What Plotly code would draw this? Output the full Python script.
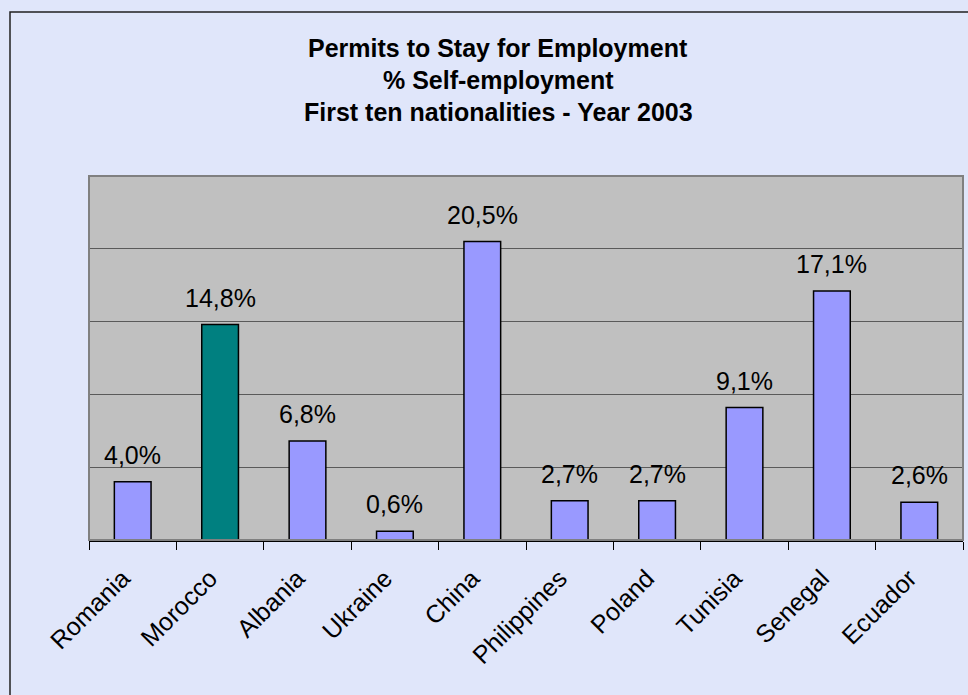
import plotly.graph_objects as go

# Share of self-employment among permits to stay for employment, 2003
countries = ["Romania", "Morocco", "Albania", "Ukraine", "China",
             "Philippines", "Poland", "Tunisia", "Senegal", "Ecuador"]
self_employment_pct = [4.0, 14.8, 6.8, 0.6, 20.5, 2.7, 2.7, 9.1, 17.1, 2.6]
highlight = "Morocco"

title_lines = ["Permits to Stay for Employment",
               "% Self-employment",
               "First ten nationalities - Year 2003"]

BAR = "#9999FF"
BAR_HI = "#008080"
PAPER = "#E0E6FA"
PLOT = "#C0C0C0"
FONT = "Liberation Sans, Arial, sans-serif"

colors = [BAR_HI if c == highlight else BAR for c in countries]
labels = [f"{v:.1f}%".replace(".", ",") for v in self_employment_pct]

fig = go.Figure(go.Bar(
    x=countries,
    y=self_employment_pct,
    marker=dict(color=colors, line=dict(color="black", width=1.5)),
    hoverinfo="x+y",
))

# value labels above each bar
for c, v, t in zip(countries, self_employment_pct, labels):
    fig.add_annotation(x=c, y=v, text=t, showarrow=False, yanchor="bottom",
                       yshift=11, font=dict(family=FONT, size=25, color="black"))

# three-line bold title
plot_h = 540 - 176
for i, line in enumerate(title_lines):
    fig.add_annotation(xref="paper", yref="paper", x=(498 - 89) / 874,
                       y=(540 - (48 + 32 * i)) / plot_h, text=f"<b>{line}</b>",
                       showarrow=False, xanchor="center", yanchor="middle",
                       font=dict(family=FONT, size=25, color="black"))

# outer chart frame and plot-area border
fig.add_shape(type="rect", xref="paper", yref="paper",
              x0=(10 - 89) / 874, x1=1.2, y0=-1.0, y1=(540 - 12) / plot_h,
              line=dict(color="#202020", width=1.5), layer="below")
fig.add_shape(type="rect", xref="paper", yref="paper", x0=0, x1=1, y0=0, y1=1,
              line=dict(color="#808080", width=2), layer="above")

fig.update_layout(
    width=968, height=695,
    margin=dict(l=89, r=5, t=176, b=155),
    paper_bgcolor=PAPER,
    plot_bgcolor=PLOT,
    bargap=0.58,
    showlegend=False,
    font=dict(family=FONT, color="black"),
)
fig.update_xaxes(
    showline=True, linecolor="black", linewidth=1.5,
    ticks="outside", tickson="boundaries", ticklen=8, tickcolor="black", tickwidth=1,
    tickangle=-45, tickfont=dict(family=FONT, size=25, color="black"),
    ticklabelstandoff=12, ticklabelshift=-10,
    showgrid=False,
)
fig.update_yaxes(
    range=[0, 25], dtick=5, showticklabels=False, ticks="",
    showgrid=True, gridcolor="#5A5A5A", gridwidth=1.2,
    zeroline=False, showline=False,
)

fig.write_html("out.html")
